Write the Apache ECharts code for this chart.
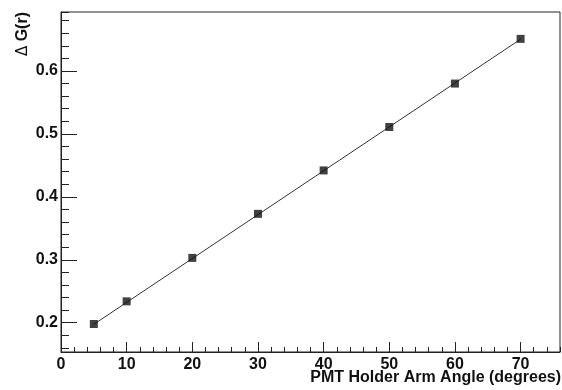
<!DOCTYPE html>
<html>
<head>
<meta charset="utf-8">
<script src="https://cdn.jsdelivr.net/npm/echarts@6/dist/echarts.min.js"></script>
<style>
  html, body { margin: 0; padding: 0; background: #fff; }
  #main { width: 562px; height: 390px; }
</style>
</head>
<body>
<div id="main"></div>
<script>
// measured points
var angles = [5, 10, 20, 30, 40, 50, 60, 70];
var deltaG = [0.198, 0.234, 0.303, 0.373, 0.442, 0.511, 0.580, 0.651];
// straight-line fit, end points
var fitX = [5, 70];
var fitY = [0.1975, 0.6505];

var xMin = 0, xMax = 76;
var yMin = 0.1535, yMax = 0.6937;

var chart = echarts.init(document.getElementById('main'));
var font = 'Liberation Sans, Arial, sans-serif';

var option = {
  animation: false,
  grid: {
    left: 61, right: 2, top: 12, bottom: 38,
    outerBoundsMode: 'none',
    containLabel: false,
    show: true, borderColor: '#222', borderWidth: 1, backgroundColor: 'transparent'
  },
  xAxis: [
    {
      type: 'value', min: xMin, max: xMax, interval: 10,
      axisLine: { show: true, onZero: false, lineStyle: { color: '#222', width: 1 } },
      axisTick: { show: true, inside: true, length: 10, lineStyle: { color: '#222' } },
      splitLine: { show: false },
      axisLabel: {
        margin: 5, color: '#111', fontFamily: font, fontWeight: 'bold', fontSize: 16,
        showMaxLabel: false,
        formatter: function (v) { return v % 10 === 0 ? String(v) : ''; }
      },
      name: 'PMT Holder Arm Angle (degrees)',
      nameLocation: 'end',
      nameGap: 1,
      nameMoveOverlap: false,
      nameTextStyle: {
        align: 'right', verticalAlign: 'top', padding: [18, 0, 0, 0],
        color: '#111', fontFamily: font, fontWeight: 'bold', fontSize: 16
      }
    },
    {
      // minor ticks
      type: 'value', min: xMin, max: xMax, interval: 2, position: 'bottom',
      axisLine: { show: false, onZero: false },
      axisTick: { show: true, inside: true, length: 5, lineStyle: { color: '#222' } },
      splitLine: { show: false },
      axisLabel: { show: false }
    }
  ],
  yAxis: [
    {
      type: 'value', min: yMin, max: yMax, minInterval: 0.1, maxInterval: 0.1, splitNumber: 5,
      axisLine: { show: true, onZero: false, lineStyle: { color: '#222', width: 1 } },
      axisTick: { show: true, inside: true, length: 16, lineStyle: { color: '#222' } },
      splitLine: { show: false },
      axisLabel: {
        margin: 3, color: '#111', fontFamily: font, fontWeight: 'bold', fontSize: 16,
        showMinLabel: false, showMaxLabel: false,
        formatter: function (v) {
          return Math.abs(v * 10 - Math.round(v * 10)) < 1e-6 ? v.toFixed(1) : '';
        }
      },
      name: '{d|Δ} G(r)',
      nameLocation: 'end',
      nameGap: 0,
      nameRotate: 90,
      nameMoveOverlap: false,
      nameTextStyle: {
        align: 'right', verticalAlign: 'bottom', padding: [0, 0, 30, 0],
        color: '#111', fontFamily: font, fontWeight: 'bold', fontSize: 16,
        rich: { d: { fontFamily: 'DejaVu Sans', fontWeight: 'normal', fontSize: 15, color: '#111' } }
      }
    },
    {
      // minor ticks
      type: 'value', min: yMin, max: yMax, minInterval: 0.02, maxInterval: 0.02, splitNumber: 25,
      position: 'left',
      axisLine: { show: false, onZero: false },
      axisTick: { show: true, inside: true, length: 8, lineStyle: { color: '#222' } },
      splitLine: { show: false },
      axisLabel: { show: false }
    }
  ],
  series: [
    {
      name: 'fit',
      type: 'line',
      xAxisIndex: 0, yAxisIndex: 0,
      data: fitX.map(function (x, i) { return [x, fitY[i]]; }),
      showSymbol: false,
      lineStyle: { color: '#333', width: 1 },
      z: 2
    },
    {
      name: 'data',
      type: 'scatter',
      xAxisIndex: 0, yAxisIndex: 0,
      data: angles.map(function (x, i) { return [x, deltaG[i]]; }),
      symbol: 'rect',
      symbolSize: 8,
      itemStyle: { color: '#111' },
      z: 3
    }
  ]
};

chart.setOption(option);
</script>
</body>
</html>
